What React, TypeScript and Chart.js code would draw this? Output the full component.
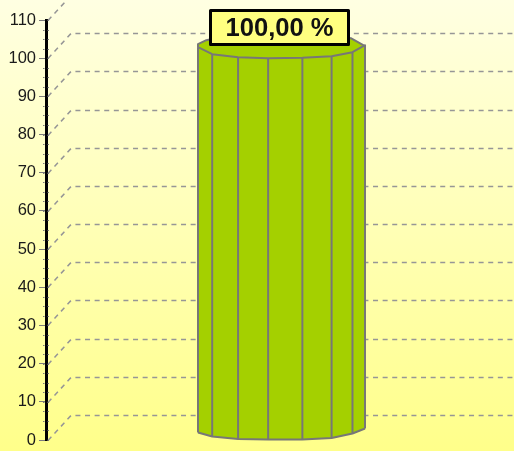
import React, { useEffect, useRef } from "react";
import { Chart, registerables } from "chart.js";

Chart.register(...registerables);

const categories = [""];
const seriesValues = [100];
const yMax = 110;
const yStep = 10;
const minorStep = 2.5;

const GREEN = "#A4D000";
const EDGE = "#777777";
const GRID = "#969696";
const DEPTH_X = 25;
const DEPTH_Y = 25;
const BAR_SHIFT = 1.5;

// facet positions: offset from bar centre (fraction of half-width), rim drop / base rise in px
const facetX = [-1, -0.83, -0.52, -0.16, 0.25, 0.6, 0.85, 1];
const rimFront = [11, 4, 1, 0, 0.5, 2, 6, 13];
const baseFront = [7, 3, 0.5, 0, 0, 1.5, 6, 11];
const rimBackX = [-1, -0.9, -0.6, 0, 0.6, 0.83, 1];
const rimBackY = [11, 7, 1.5, -1, 1.5, 5, 13];

const cylinder = {
  id: "cylinder",
  beforeDraw(chart: any) {
    const { ctx, width, height } = chart;
    const g = ctx.createLinearGradient(0, 0, 0, height);
    g.addColorStop(0, "#FFFFE2");
    g.addColorStop(1, "#FFFF8A");
    ctx.save();
    ctx.fillStyle = g;
    ctx.fillRect(0, 0, width, height);
    ctx.restore();
  },
  beforeDatasetsDraw(chart: any) {
    const { ctx, width, scales, chartArea } = chart;
    const y = scales.y;
    ctx.save();
    ctx.strokeStyle = GRID;
    ctx.lineWidth = 1.5;
    ctx.setLineDash([5, 4.6]);
    for (let v = 0; v <= yMax; v += yStep) {
      const py = Math.round(y.getPixelForValue(v)) + 0.5;
      ctx.beginPath();
      ctx.moveTo(chartArea.left + 2, py);
      ctx.lineTo(chartArea.left + DEPTH_X, py - DEPTH_Y);
      ctx.lineTo(width, py - DEPTH_Y);
      ctx.stroke();
    }
    ctx.setLineDash([]);
    ctx.strokeStyle = "#7C7C7C";
    ctx.lineWidth = 1;
    for (let v = 0; v <= yMax; v += minorStep) {
      const py = Math.round(y.getPixelForValue(v)) + 0.5;
      ctx.beginPath();
      ctx.moveTo(chartArea.left - 3, py);
      ctx.lineTo(chartArea.left - 1.5, py);
      ctx.moveTo(chartArea.left + 1.5, py);
      ctx.lineTo(chartArea.left + 3, py);
      ctx.stroke();
    }
    ctx.restore();
  },
  beforeDatasetDraw() {
    return false;
  },
  afterDatasetsDraw(chart: any) {
    const { ctx } = chart;
    const meta = chart.getDatasetMeta(0);
    const el = meta.data[0];
    const cx = el.x + BAR_SHIFT;
    const half = el.width / 2;
    const top = el.y;
    const base = el.base;
    const px = (f: number) => cx + f * half;
    ctx.save();
    ctx.lineJoin = "round";
    ctx.fillStyle = chart.data.datasets[0].backgroundColor;
    ctx.strokeStyle = EDGE;
    ctx.lineWidth = 2;
    // body
    ctx.beginPath();
    facetX.forEach((f, i) => {
      const py = top - rimFront[i];
      if (i === 0) ctx.moveTo(px(f), py);
      else ctx.lineTo(px(f), py);
    });
    for (let i = facetX.length - 1; i >= 0; i--) ctx.lineTo(px(facetX[i]), base - baseFront[i]);
    ctx.closePath();
    ctx.fill();
    // top cap
    ctx.beginPath();
    rimBackX.forEach((f, i) => {
      const py = top - DEPTH_Y + rimBackY[i];
      if (i === 0) ctx.moveTo(px(f), py);
      else ctx.lineTo(px(f), py);
    });
    for (let i = facetX.length - 1; i >= 0; i--) ctx.lineTo(px(facetX[i]), top - rimFront[i]);
    ctx.closePath();
    ctx.fill();
    ctx.stroke();
    // facets and outline
    facetX.forEach((f, i) => {
      ctx.beginPath();
      ctx.moveTo(px(f), top - rimFront[i]);
      ctx.lineTo(px(f), base - baseFront[i]);
      ctx.stroke();
    });
    ctx.beginPath();
    facetX.forEach((f, i) => {
      const py = base - baseFront[i];
      if (i === 0) ctx.moveTo(px(f), py);
      else ctx.lineTo(px(f), py);
    });
    ctx.stroke();
    // value label
    const text = seriesValues[0].toFixed(2).replace(".", ",") + " %";
    const boxW = 138;
    const boxH = 34;
    const bx = Math.round(cx - boxW / 2) - 2.5;
    const by = Math.round(top - 48) + 0.5;
    ctx.fillStyle = "#FFFF80";
    ctx.fillRect(bx, by, boxW, boxH);
    ctx.strokeStyle = "#000000";
    ctx.lineWidth = 3;
    ctx.strokeRect(bx, by, boxW, boxH);
    ctx.fillStyle = "#111111";
    ctx.font = "bold 25.6px 'Liberation Sans', Arial, sans-serif";
    ctx.textAlign = "center";
    ctx.textBaseline = "middle";
    ctx.fillText(text, bx + boxW / 2, by + boxH / 2 + 1);
    ctx.restore();
  },
};

export default function App() {
  const ref = useRef<HTMLCanvasElement>(null);
  useEffect(() => {
    document.body.style.margin = "0";
    const chart = new Chart(ref.current as HTMLCanvasElement, {
      type: "bar",
      data: {
        labels: categories,
        datasets: [{ data: seriesValues, backgroundColor: GREEN, barThickness: 167 }],
      },
      options: {
        animation: false,
        responsive: false,
        layout: { autoPadding: false, padding: { top: 20, bottom: 11, left: 0, right: 0 } },
        plugins: { legend: { display: false }, tooltip: { enabled: false } },
        scales: {
          x: { display: false },
          y: {
            min: 0,
            max: yMax,
            afterFit(scale: any) {
              scale.width = 46;
              scale.paddingTop = 0;
              scale.paddingBottom = 0;
            },
            ticks: {
              stepSize: yStep,
              color: "#1A1A1A",
              padding: 3,
              font: { family: "'Liberation Sans', Arial, sans-serif", size: 16.5 },
            },
            grid: { drawOnChartArea: false, tickLength: 7, tickColor: "#7C7C7C", tickWidth: 1 },
            border: { color: "#000000", width: 3 },
          },
        },
      },
      plugins: [cylinder],
    } as any);
    return () => chart.destroy();
  }, []);
  return <canvas ref={ref} width={514} height={451} style={{ display: "block" }} />;
}
